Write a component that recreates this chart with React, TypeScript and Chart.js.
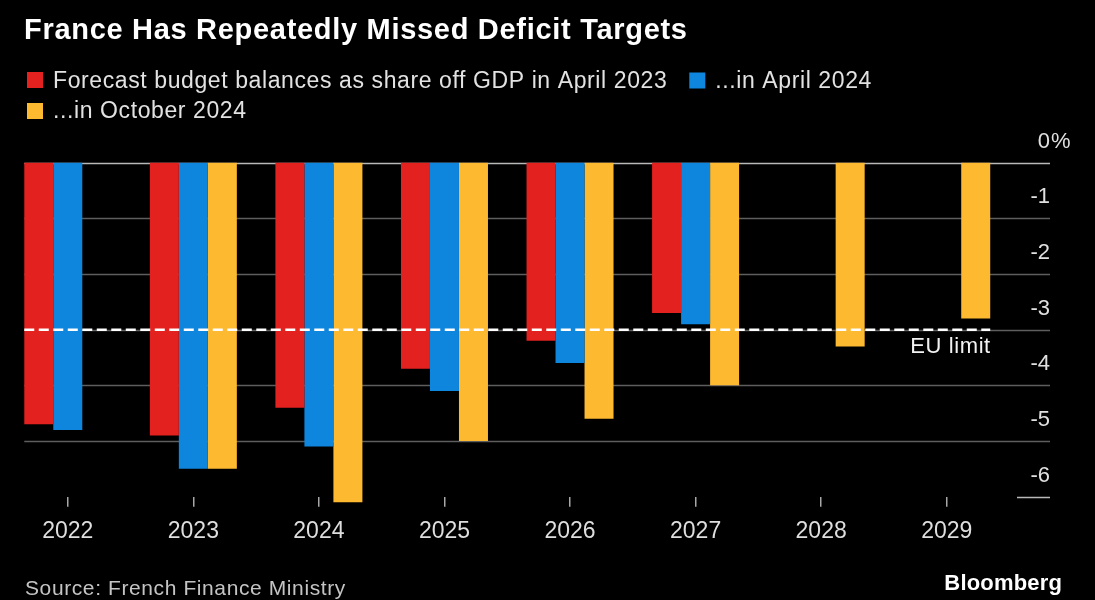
import React, { useEffect, useRef } from 'react';
import { Chart, registerables } from 'chart.js';

Chart.register(...registerables);

// ---- data ----
const categories = ['2022', '2023', '2024', '2025', '2026', '2027', '2028', '2029'];
const april2023 = [-4.7, -4.9, -4.4, -3.7, -3.2, -2.7, null, null];
const april2024 = [-4.8, -5.5, -5.1, -4.1, -3.6, -2.9, null, null];
const october2024 = [null, -5.5, -6.1, -5.0, -4.6, -4.0, -3.3, -2.8];
const yTickValues = [0, -1, -2, -3, -4, -5, -6];
const yTickLabels = ['0%', '-1', '-2', '-3', '-4', '-5', '-6'];
const seriesLabels = [
  'Forecast budget balances as share off GDP in April 2023',
  '...in April 2024',
  '...in October 2024',
];
const seriesColors = ['#E3211F', '#0F86DE', '#FDB930'];
const euLimit = -3;
const euLabel = 'EU limit';
const titleText = 'France Has Repeatedly Missed Deficit Targets';
const sourceText = 'Source: French Finance Ministry';
const brandText = 'Bloomberg';

const FONT = "'Liberation Sans', Arial, Helvetica, sans-serif";

function drawText(
  ctx: CanvasRenderingContext2D,
  s: string,
  x: number,
  y: number,
  font: string,
  color: string,
  align: CanvasTextAlign = 'left',
  spacing = 0
) {
  ctx.save();
  ctx.font = font;
  ctx.fillStyle = color;
  ctx.textAlign = align;
  ctx.textBaseline = 'alphabetic';
  (ctx as any).letterSpacing = spacing + 'px';
  const dx = align === 'right' ? spacing : 0;
  ctx.fillText(s, x + dx, y);
  (ctx as any).letterSpacing = '0px';
  ctx.restore();
}

function measure(ctx: CanvasRenderingContext2D, s: string, font: string, spacing = 0) {
  ctx.save();
  ctx.font = font;
  (ctx as any).letterSpacing = spacing + 'px';
  const w = ctx.measureText(s).width;
  (ctx as any).letterSpacing = '0px';
  ctx.restore();
  return w;
}

function barExtents(chart: any) {
  const first = chart.getDatasetMeta(0).data[0];
  const lastMeta = chart.getDatasetMeta(chart.data.datasets.length - 1);
  const last = lastMeta.data[lastMeta.data.length - 1];
  return {
    left: first.x - first.width / 2,
    right: last.x + last.width / 2,
  };
}

const decorPlugin = {
  id: 'decor',
  beforeDraw(chart: any) {
    const ctx = chart.ctx as CanvasRenderingContext2D;
    ctx.save();
    ctx.fillStyle = '#000';
    ctx.fillRect(0, 0, chart.width, chart.height);
    ctx.restore();
  },
  beforeDatasetsDraw(chart: any) {
    const ctx = chart.ctx as CanvasRenderingContext2D;
    const y = chart.scales.y;
    const ext = barExtents(chart);
    const gridRight = chart.width - 45;
    ctx.save();
    yTickValues.forEach((v, i) => {
      const py = Math.round(y.getPixelForValue(v)) + 0.5;
      ctx.beginPath();
      if (i === yTickValues.length - 1) {
        ctx.strokeStyle = '#b8b8b8';
        ctx.moveTo(gridRight - 33, py);
      } else {
        ctx.strokeStyle = v === 0 ? '#b8b8b8' : '#5e5e5e';
        ctx.moveTo(ext.left, py);
      }
      ctx.lineWidth = 1.6;
      ctx.lineTo(gridRight, py);
      ctx.stroke();
    });
    ctx.restore();
  },
  afterDatasetsDraw(chart: any) {
    const ctx = chart.ctx as CanvasRenderingContext2D;
    const y = chart.scales.y;
    const ext = barExtents(chart);
    const gridRight = chart.width - 45;

    // EU limit dashed line
    const py = y.getPixelForValue(euLimit);
    ctx.save();
    ctx.strokeStyle = '#ffffff';
    ctx.lineWidth = 2.5;
    ctx.setLineDash([10, 4.5]);
    ctx.beginPath();
    ctx.moveTo(ext.left, py);
    ctx.lineTo(ext.right, py);
    ctx.stroke();
    ctx.restore();
    drawText(ctx, euLabel, ext.right, py + 23, `22px ${FONT}`, '#f2f2f2', 'right', 0.6);

    // y tick labels (above gridlines)
    yTickValues.forEach((v, i) => {
      const gy = y.getPixelForValue(v);
      const lab = yTickLabels[i];
      const f = `22px ${FONT}`;
      if (lab.endsWith('%')) {
        drawText(ctx, lab.slice(0, -1), gridRight, gy - 15, f, '#e0e0e0', 'right');
        drawText(ctx, '%', gridRight + 1, gy - 15, f, '#e0e0e0', 'left');
      } else {
        drawText(ctx, lab, gridRight, gy - 15, f, '#e0e0e0', 'right');
      }
    });
  },
  afterDraw(chart: any) {
    const ctx = chart.ctx as CanvasRenderingContext2D;
    // title
    drawText(ctx, titleText, 24, 39, `bold 29px ${FONT}`, '#ffffff', 'left', 0.7);

    // legend
    const lf = `23px ${FONT}`;
    const ls = 0.6;
    const box = 16;
    const colors = chart.data.datasets.map((d: any) => d.backgroundColor);
    const labels = chart.data.datasets.map((d: any) => d.label);
    // row 1: item 0 and item 1
    ctx.save();
    ctx.fillStyle = colors[0];
    ctx.fillRect(27, 72, box, box);
    ctx.restore();
    drawText(ctx, labels[0], 53, 87.5, lf, '#e2e2e2', 'left', ls);
    const w0 = measure(ctx, labels[0], lf, ls);
    const x1 = 53 + w0 + 22;
    ctx.save();
    ctx.fillStyle = colors[1];
    ctx.fillRect(x1, 72.5, box, box);
    ctx.restore();
    drawText(ctx, labels[1], x1 + 26, 87.5, lf, '#e2e2e2', 'left', ls);
    // row 2: item 2
    ctx.save();
    ctx.fillStyle = colors[2];
    ctx.fillRect(27, 103, box, box);
    ctx.restore();
    drawText(ctx, labels[2], 53, 118.3, lf, '#e2e2e2', 'left', ls);

    // source + brand
    drawText(ctx, sourceText, 25, 594.5, `21px ${FONT}`, '#c4c4c4', 'left', 0.6);
    drawText(ctx, brandText, 1062, 589.5, `bold 22px ${FONT}`, '#ffffff', 'right', 0.2);
  },
};

export default function App() {
  const ref = useRef<HTMLCanvasElement>(null);
  useEffect(() => {
    if (!ref.current) return;
    const chart = new Chart(ref.current, {
      type: 'bar',
      data: {
        labels: categories,
        datasets: [
          { label: seriesLabels[0], data: april2023, backgroundColor: seriesColors[0], clip: false as any },
          { label: seriesLabels[1], data: april2024, backgroundColor: seriesColors[1], clip: false as any },
          { label: seriesLabels[2], data: october2024, backgroundColor: seriesColors[2], clip: false as any },
        ],
      },
      options: {
        responsive: false,
        animation: false,
        devicePixelRatio: 1,
        layout: { padding: { left: 5, right: 85.5, top: 162.7, bottom: 43.3 } },
        datasets: {
          bar: { categoryPercentage: 0.693, barPercentage: 1, borderWidth: 0 },
        },
        plugins: {
          legend: { display: false },
          tooltip: { enabled: false },
          title: { display: false },
        },
        scales: {
          x: {
            grid: {
              display: true,
              drawOnChartArea: false,
              drawTicks: true,
              tickLength: 10,
              offset: false,
              color: '#a8a8a8',
              lineWidth: 1.5,
            },
            border: { display: false },
            ticks: {
              color: '#dedede',
              font: { family: FONT, size: 23 },
              padding: 11,
              maxRotation: 0,
              autoSkip: false,
            },
            afterFit: (s: any) => {
              s.height = 60;
            },
          },
          y: { display: false, min: -6, max: 0 },
        },
      } as any,
      plugins: [decorPlugin],
    });
    return () => chart.destroy();
  }, []);
  return (
    <div style={{ position: 'absolute', left: 0, top: 0, width: 1095, height: 600, background: '#000' }}>
      <canvas ref={ref} width={1095} height={600} style={{ display: 'block' }} />
    </div>
  );
}
